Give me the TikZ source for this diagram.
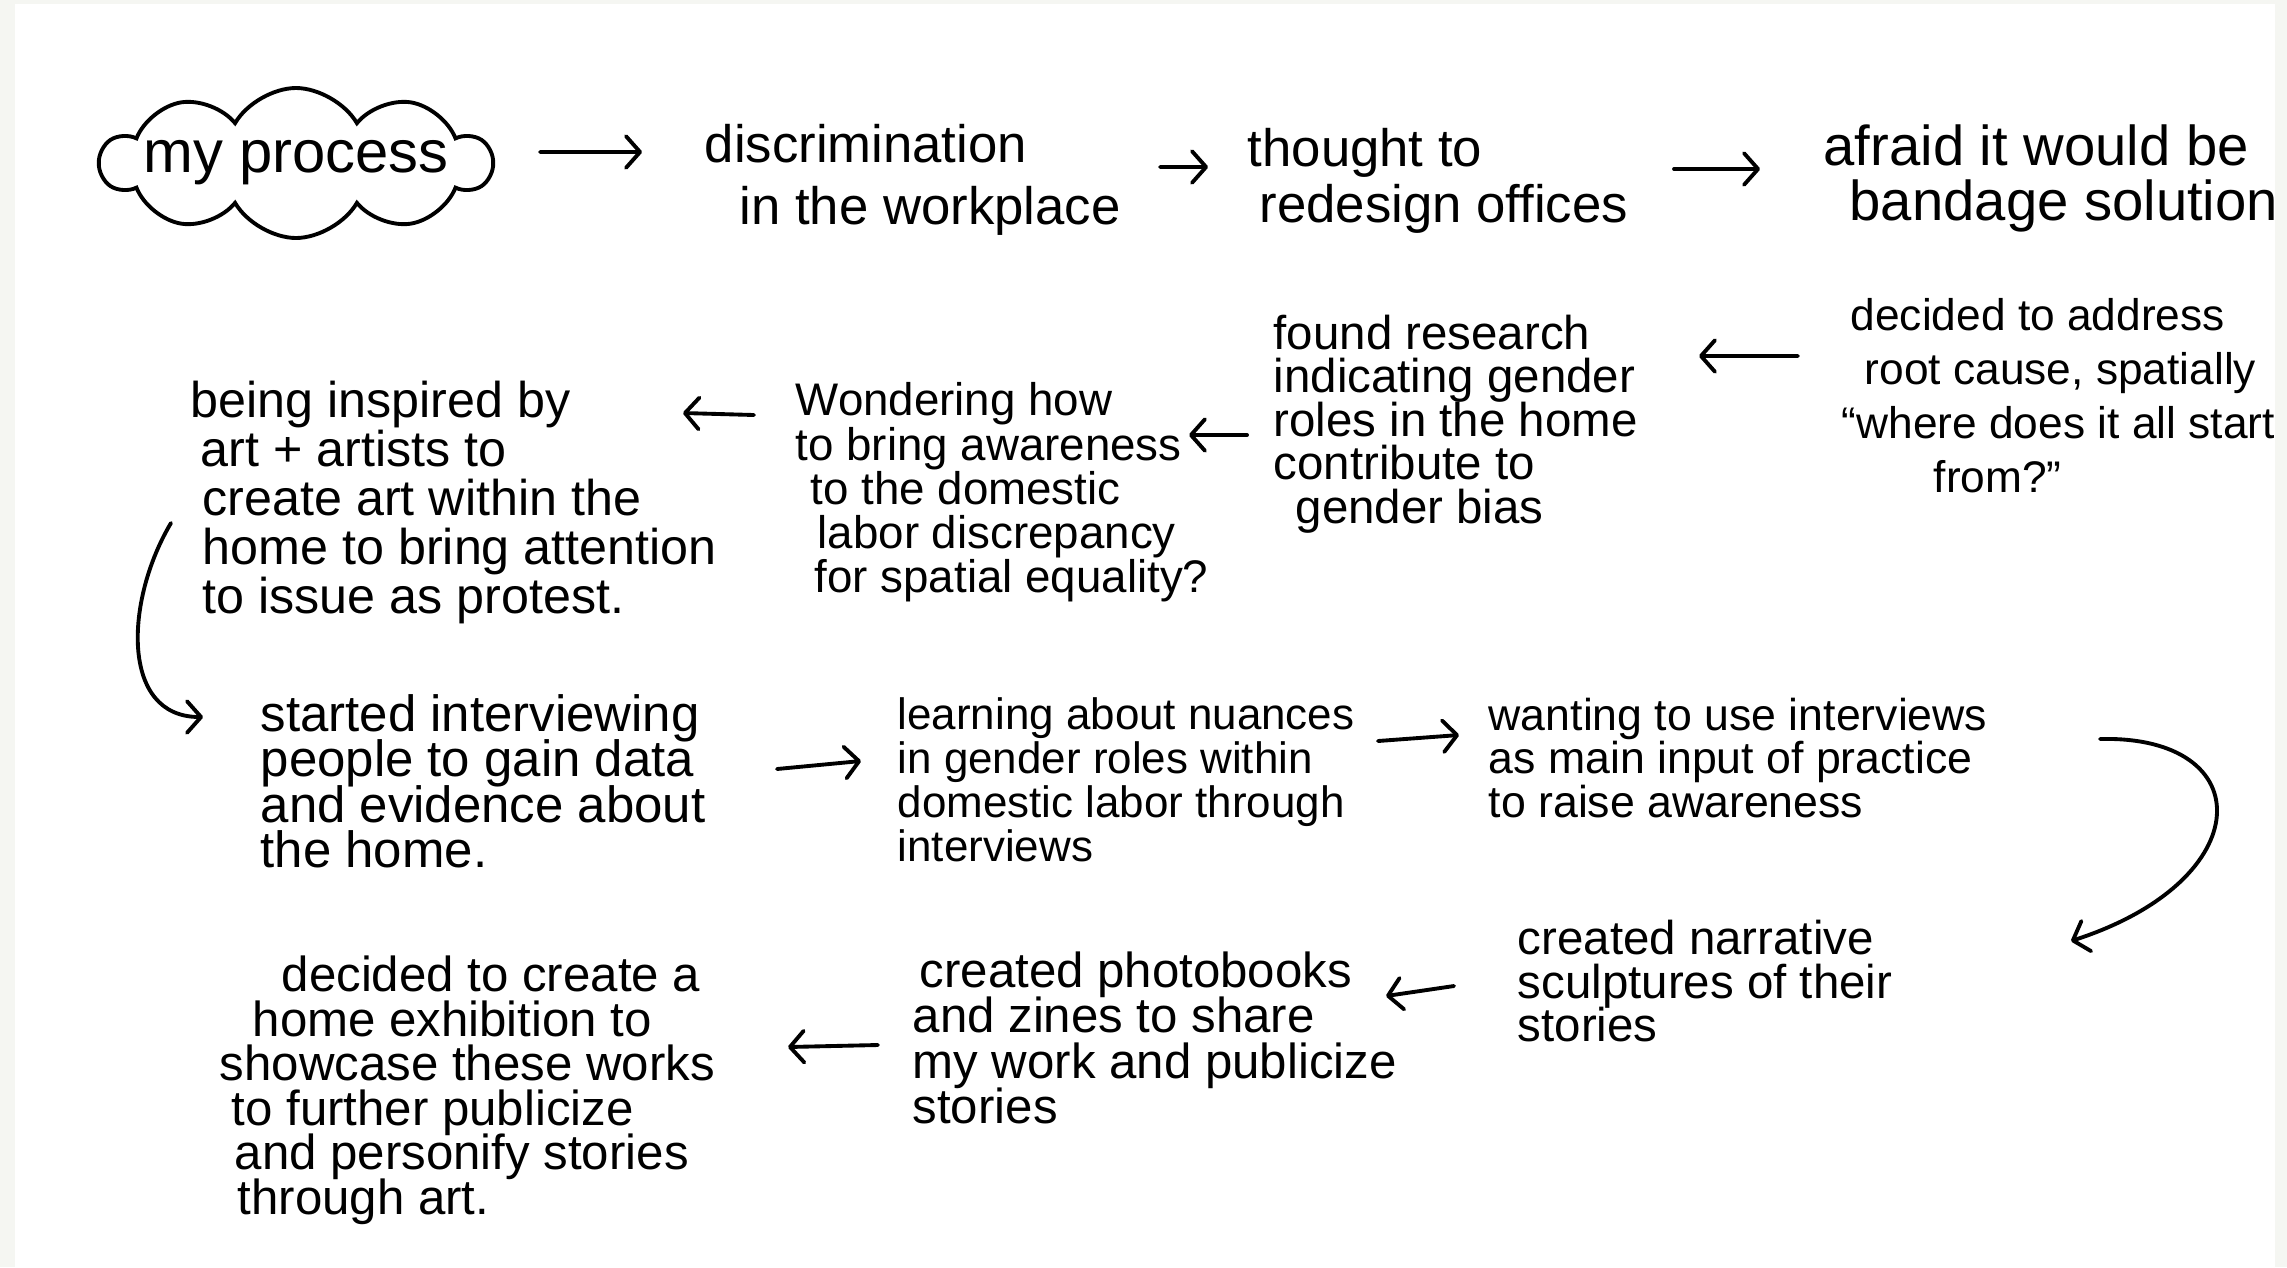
\documentclass[tikz,border=0pt]{standalone}
\usepackage{fontspec}
\setmainfont{Liberation Sans}
\usetikzlibrary{positioning,shapes,arrows.meta}
\definecolor{pagegray}{HTML}{F5F6F2}
\tikzset{note/.style={anchor=north west,inner sep=0pt,align=left},
  hand/.style 2 args={font={\fontsize{#1}{#2}\selectfont\lineskiplimit-20pt}},
  arr/.style={-{Straight Barb[length=4pt,width=9pt,round]},line width=1.1pt,line cap=round}}

\begin{document}
\begin{tikzpicture}

\useasboundingbox (0,0) rectangle (22.87,-12.67);
\fill[pagegray] (0,0) rectangle (22.87,-12.67);
\fill[white] (0.15,-0.04) rectangle (22.75,-12.67);

\node[cloud,draw,line width=1.1pt,cloud puffs=10,cloud puff arc=120,cloud ignores aspect,minimum width=3.9cm,minimum height=1.5cm,inner xsep=-0.4cm,inner ysep=0pt,hand={17}{18}] (cloud) at (2.96,-1.63) {my process};
\node[note,hand={15}{17.4}] (disc) at (7.04,-1.24) {discrimination\\\hspace*{0.35cm}in the workplace};
\node[note,hand={15}{15.7}] (thought) at (12.47,-1.28) {thought to\\\hspace*{0.12cm}redesign offices};
\node[note,hand={16}{15.7}] (afraid) at (18.23,-1.24) {afraid it would be\\\hspace*{0.26cm}bandage solution};
\node[note,hand={12.6}{15.3}] (decided) at (18.41,-2.98) {\hspace*{0.09cm}decided to address\\\hspace*{0.23cm}root cause, spatially\\“where does it all start\\\hspace*{0.92cm}from?”};
\node[note,hand={13.5}{12.4}] (found) at (12.73,-3.14) {found research\\indicating gender\\roles in the home\\contribute to\\\hspace*{0.22cm}gender bias};
\node[note,hand={13}{12.6}] (wonder) at (7.95,-3.82) {Wondering how\\to bring awareness\\\hspace*{0.15cm}to the domestic\\\hspace*{0.22cm}labor discrepancy\\\hspace*{0.19cm}for spatial equality?};
\node[note,hand={14.3}{14}] (inspired) at (1.90,-3.80) {being inspired by\\\hspace*{0.1cm}art + artists to\\\hspace*{0.12cm}create art within the\\\hspace*{0.12cm}home to bring attention\\\hspace*{0.12cm}to issue as protest.};
\node[note,hand={14.5}{12.9}] (started) at (2.60,-6.94) {started interviewing\\people to gain data\\and evidence about\\the home.};
\node[note,hand={12.5}{12.5}] (learning) at (8.97,-6.97) {learning about nuances\\in gender roles within\\domestic labor through\\interviews};
\node[note,hand={12.7}{12.5}] (wanting) at (14.88,-6.97) {wanting to use interviews\\as main input of practice\\to raise awareness};
\node[note,hand={13.5}{12.5}] (sculpt) at (15.17,-9.19) {created narrative\\sculptures of their\\stories};
\node[note,hand={14}{12.9}] (photo) at (9.12,-9.51) {\hspace*{0.07cm}created photobooks\\and zines to share\\my work and publicize\\stories};
\node[note,hand={14}{12.7}] (exhib) at (2.19,-9.55) {\hspace*{0.62cm}decided to create a\\\hspace*{0.33cm}home exhibition to\\showcase these works\\\hspace*{0.12cm}to further publicize\\\hspace*{0.15cm}and personify stories\\\hspace*{0.18cm}through art.};

\draw[arr] ([shift={(2.44,0.11)}]cloud.center) -- ([shift={(-0.62,-0.28)}]disc.north west);
\draw[arr] ([shift={(4.56,-0.43)}]disc.north west) -- ([shift={(-0.39,-0.39)}]thought.north west);
\draw[arr] ([shift={(4.27,-0.41)}]thought.north west) -- ([shift={(-0.63,-0.45)}]afraid.north west);
\draw[arr] ([shift={(-0.43,-0.58)}]decided.north west) -- ([shift={(4.26,-0.42)}]found.north west);
\draw[arr] ([shift={(-0.26,-1.21)}]found.north west) -- ([shift={(3.94,-0.53)}]wonder.north west);
\draw[arr] ([shift={(-0.41,-0.33)}]wonder.north west) -- ([shift={(4.93,-0.33)}]inspired.north west);
\draw[arr] ([shift={(-0.19,-1.43)}]inspired.north west) .. controls (1.25,-6.0) and (1.2,-7.17) .. ([shift={(-0.57,-0.23)}]started.north west);
\draw[arr] ([shift={(5.17,-0.75)}]started.north west) -- ([shift={(-0.36,-0.64)}]learning.north west);
\draw[arr] ([shift={(4.81,-0.44)}]learning.north west) -- ([shift={(-0.29,-0.38)}]wanting.north west);
\draw[arr] ([shift={(6.12,-0.42)}]wanting.north west) .. controls (22.6,-7.35) and (22.6,-8.8) .. ([shift={(5.54,-0.22)}]sculpt.north west);
\draw[arr] ([shift={(-0.63,-0.67)}]sculpt.north west) -- ([shift={(4.74,-0.45)}]photo.north west);
\draw[arr] ([shift={(-0.34,-0.94)}]photo.north west) -- ([shift={(5.69,-0.92)}]exhib.north west);

\fill[pagegray] (22.75,0) rectangle (22.87,-12.67);
\end{tikzpicture}
\end{document}
